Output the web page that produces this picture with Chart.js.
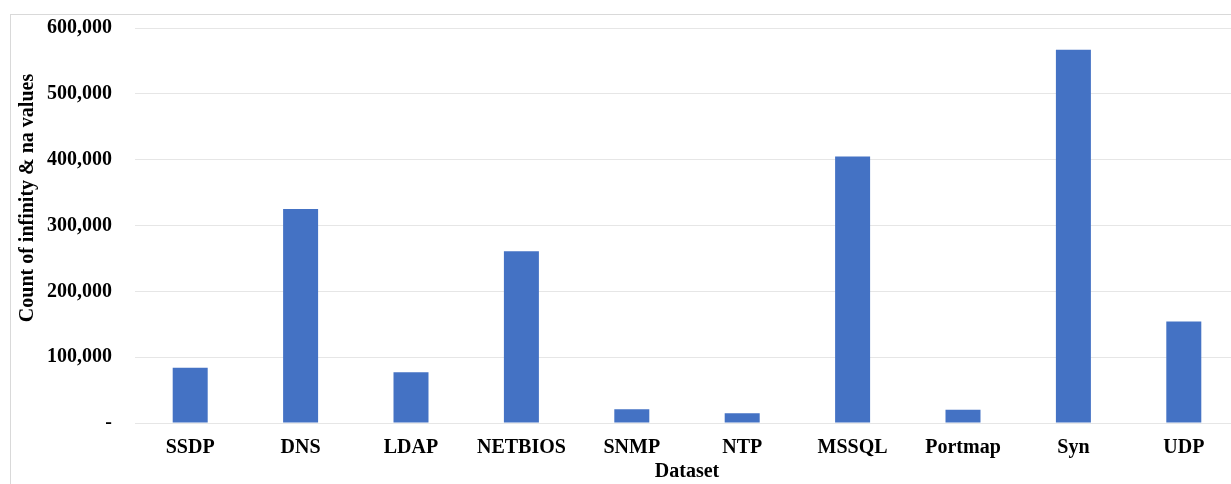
<!DOCTYPE html>
<html>
<head>
<meta charset="utf-8">
<script src="https://cdn.jsdelivr.net/npm/chart.js@4/dist/chart.umd.min.js"></script>
<style>
    html, body { margin: 0; padding: 0; background: #fff; overflow: hidden; width: 1231px; height: 484px; }
    #frame { position: absolute; left: 10px; top: 14px; width: 1240px; height: 480px; border: 1px solid #d9d9d9; }
    #wrap { position: absolute; left: 0; top: 0; width: 1240px; height: 484px; }
</style>
</head>
<body>
<div id="frame"></div>
<div id="wrap"><canvas id="grafico"></canvas></div>
<script>
// dados
const categorias = ['SSDP', 'DNS', 'LDAP', 'NETBIOS', 'SNMP', 'NTP', 'MSSQL', 'Portmap', 'Syn', 'UDP'];
const contagens = [84000, 325000, 77000, 261000, 21000, 15000, 405000, 20000, 567000, 154000];
const ticksY = [0, 100000, 200000, 300000, 400000, 500000, 600000];

const fonte = { family: '"Liberation Serif", "Times New Roman", serif', size: 20, weight: 'bold' };

// título do eixo Y fica um pouco acima do centro no original
const tituloY = 'Count of infinity & na values';

const ctx = document.getElementById('grafico').getContext('2d');
new Chart(ctx, {
    type: 'bar',
    data: {
        labels: categorias,
        datasets: [{
            label: 'Count',
            data: contagens,
            backgroundColor: '#4472C4',
            borderWidth: 0,
            categoryPercentage: 1,
            barPercentage: 0.317
        }]
    },
    options: {
        responsive: true,
        maintainAspectRatio: false,
        animation: false,
        layout: { padding: { top: 28, left: 0, right: 1, bottom: 0 } },
        plugins: { legend: { display: false }, tooltip: { enabled: false } },
        scales: {
            x: {
                afterFit: scale => { scale.height = 61; },
                grid: { display: false, drawTicks: false },
                border: { display: false },
                ticks: { color: '#000', font: fonte, padding: 13, maxRotation: 0 },
                title: { display: true, text: 'Dataset', color: '#000', font: fonte, padding: { top: 0, bottom: 0 } }
            },
            y: {
                min: 0,
                max: 600000,
                afterFit: scale => { scale.width = 135; scale.paddingTop = 0; },
                afterBuildTicks: scale => { scale.ticks = ticksY.map(v => ({ value: v })); },
                grid: { color: '#e6e6e6', drawTicks: false },
                border: { display: false },
                ticks: {
                    color: '#000',
                    font: fonte,
                    padding: 23,
                    callback: v => v === 0 ? '-' : v.toLocaleString('en-US')
                },
                title: { display: true, text: ' '.repeat(11) + tituloY, color: '#000', font: fonte, padding: { top: 16, bottom: 0 } }
            }
        }
    }
});
</script>
</body>
</html>
